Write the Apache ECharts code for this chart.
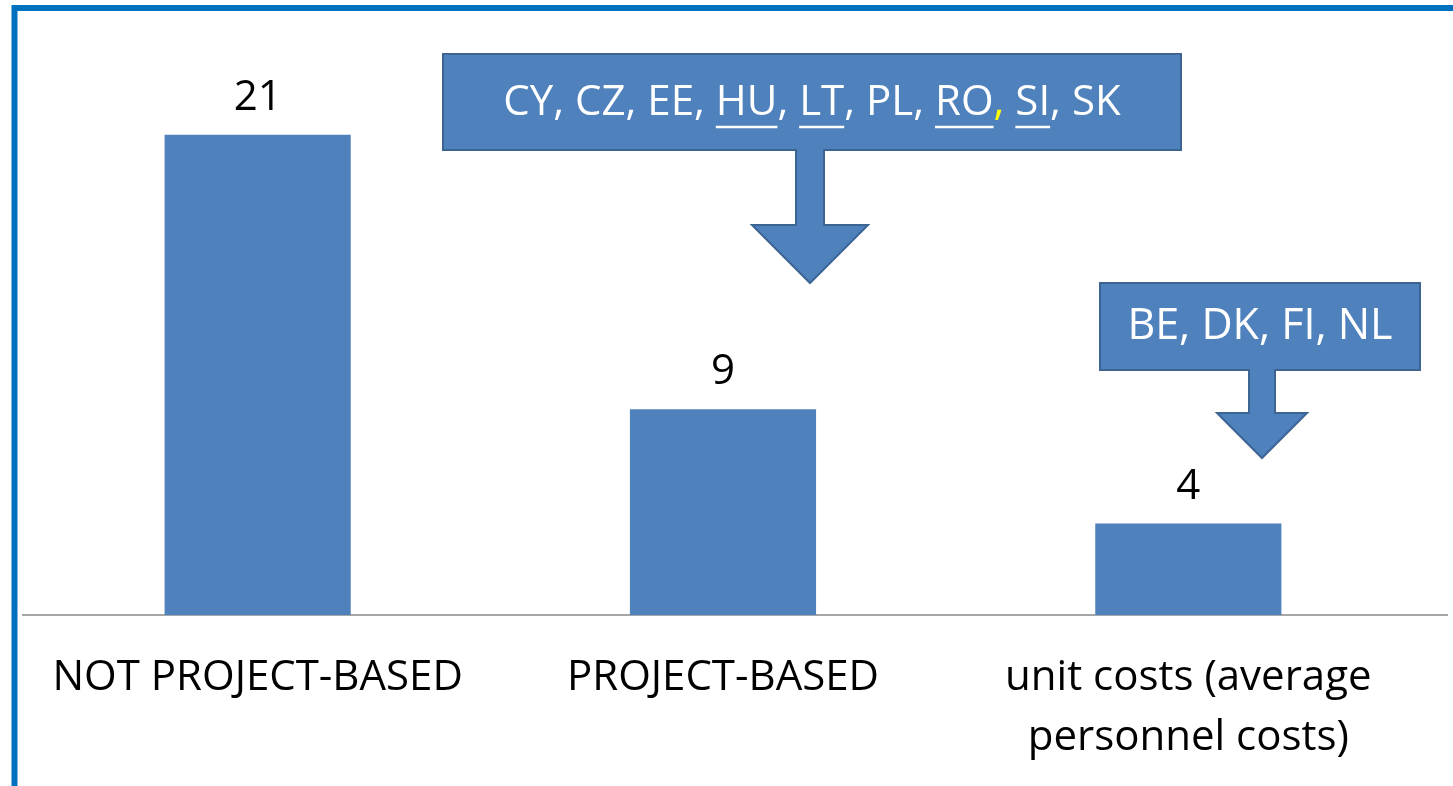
<!DOCTYPE html>
<html>
<head>
<meta charset="utf-8">
<script src="https://cdn.jsdelivr.net/npm/echarts@6/dist/echarts.min.js"></script>
<style>
html,body{margin:0;padding:0;background:#fff;}
#chart{width:1453px;height:786px;}
</style>
</head>
<body>
<div id="chart"></div>
<script>
// ---- data ----
const categories = ['NOT PROJECT-BASED', 'PROJECT-BASED', 'unit costs (average\npersonnel costs)'];
const values = [21, 9, 4];
const calloutBigParts = [
  ['t', 'CY, CZ, EE, '], ['u', 'HU'], ['t', ', '], ['u', 'LT'], ['t', ', PL, '],
  ['u', 'RO'], ['y', ','], ['t', ' '], ['u', 'SI'], ['t', ', SK']
];
const calloutSmallText = 'BE, DK, FI, NL';

const FONT = "'Open Sans', sans-serif";
const FS = 42;
const BLUE = '#4F81BD';
const EDGE = '#3C6594';

const chart = echarts.init(document.getElementById('chart'), null, {renderer: 'canvas'});

// measure text for underlines
const mctx = document.createElement('canvas').getContext('2d');
mctx.font = FS + 'px ' + FONT;
function w(s){ return mctx.measureText(s).width; }

const bigCx = 812, bigCy = 103;
const totalW = calloutBigParts.reduce((a, p) => a + w(p[1]), 0);
let xcur = bigCx - totalW / 2;
const underlines = [];
let richStr = '';
calloutBigParts.forEach(p => {
  const ww = w(p[1]);
  if (p[0] === 'u') {
    underlines.push({type: 'line', shape: {x1: xcur, y1: bigCy + 24, x2: xcur + ww, y2: bigCy + 24},
      style: {stroke: '#ffffff', lineWidth: 2.5}, z: 12});
  }
  richStr += '{' + p[0] + '|' + p[1] + '}';
  xcur += ww;
});

const richBase = {fontFamily: FONT, fontSize: FS, fill: '#ffffff', color: '#ffffff'};

const option = {
  animation: false,
  backgroundColor: '#ffffff',
  grid: {left: 25, right: 32, top: 112, bottom: 171},
  xAxis: {
    type: 'category',
    data: categories,
    axisLine: {show: true, lineStyle: {color: '#A6A6A6', width: 2}},
    axisTick: {show: false},
    axisLabel: {fontFamily: FONT, fontSize: FS, color: '#000000', margin: 33, lineHeight: 60, interval: 0}
  },
  yAxis: {type: 'value', min: 0, max: 22, show: false, splitLine: {show: false}},
  series: [{
    type: 'bar',
    data: values,
    barWidth: '40%',
    itemStyle: {color: BLUE},
    label: {show: true, position: 'top', distance: 16, fontFamily: FONT, fontSize: FS, color: '#000000'}
  }],
  graphic: [
    // frame
    {type: 'rect', shape: {x: 14.5, y: 8, width: 1600, height: 900}, style: {fill: 'none', stroke: '#0070C0', lineWidth: 6}, z: 20},
    // axis extensions
    {type: 'line', shape: {x1: 22, y1: 615, x2: 26, y2: 615}, style: {stroke: '#A6A6A6', lineWidth: 2}, z: 5},
    {type: 'line', shape: {x1: 1420, y1: 615, x2: 1448, y2: 615}, style: {stroke: '#A6A6A6', lineWidth: 2}, z: 5},
    // big callout
    {type: 'polygon', shape: {points: [[443,54],[1181,54],[1181,150],[824,150],[824,225],[868,225],[810,283],[752,225],[796,225],[796,150],[443,150]]},
      style: {fill: BLUE, stroke: EDGE, lineWidth: 2}, z: 10},
    {type: 'text', x: bigCx, y: bigCy, style: {text: richStr, align: 'center', verticalAlign: 'middle',
      fill: '#ffffff',
      rich: {t: richBase, u: richBase, y: Object.assign({}, richBase, {fill: '#FFFF00', color: '#FFFF00'})}}, z: 11},
    ...underlines,
    // small callout
    {type: 'polygon', shape: {points: [[1100,283],[1420,283],[1420,370],[1275,370],[1275,413],[1307,413],[1262,458],[1217,413],[1249,413],[1249,370],[1100,370]]},
      style: {fill: BLUE, stroke: EDGE, lineWidth: 2}, z: 10},
    {type: 'text', x: 1260, y: 327, style: {text: calloutSmallText, align: 'center', verticalAlign: 'middle',
      fontFamily: FONT, fontSize: 43, fill: '#ffffff'}, z: 11}
  ]
};
chart.setOption(option);
</script>
</body>
</html>
